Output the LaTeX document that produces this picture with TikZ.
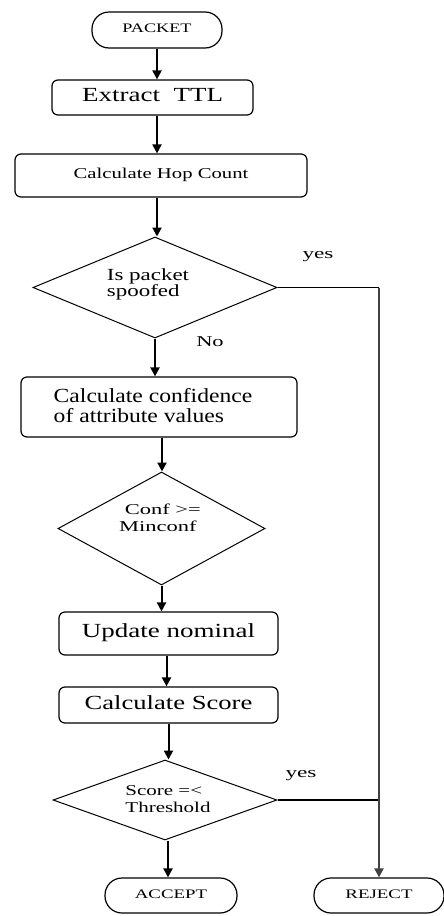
\documentclass[tikz,border=0pt]{standalone}
\usepackage{fontspec}
\setmainfont{Liberation Serif}
\usetikzlibrary{shapes.geometric,arrows.meta}
\newcommand{\stxt}[3]{\scalebox{#2}[1]{\fontsize{#1}{#1}\selectfont\begin{tabular}{@{}c@{}}#3\end{tabular}}}
\begin{document}
\begin{tikzpicture}[x=1pt,y=1pt,
  procbox/.style={draw, line width=1.2pt, rounded corners=6pt, inner sep=0pt},
  termbox/.style={draw, line width=1.2pt, rounded corners=17pt, inner sep=0pt},
  decbox/.style={draw, line width=1pt, diamond, inner sep=0pt},
  flow/.style={line width=2pt, -{Triangle[length=9pt,width=9pt]}},
  lbl/.style={inner sep=0pt}]
\useasboundingbox (0,0) rectangle (444,-916);
\node[termbox, minimum width=130pt, minimum height=36pt] (packet) at (157,-30) {\stxt{13}{1.4}{PACKET}};
\node[procbox, minimum width=201pt, minimum height=35pt] (extract) at (152.5,-97.5) {\stxt{20}{1.35}{Extract\ \ TTL}};
\node[procbox, minimum width=292pt, minimum height=43pt] (hop) at (161,-175.5) {\stxt{15}{1.38}{Calculate Hop Count}};
\node[decbox, minimum width=244pt, minimum height=101pt] (spoof) at (155,-287.5) {};
\node[lbl] (spooft) at (148,-285) {\fontsize{17}{17}\selectfont\scalebox{1.35}[1]{\begin{tabular}{@{}l@{}}Is packet\\[-1pt]spoofed\end{tabular}}};
\node[procbox, minimum width=276pt, minimum height=60pt] (confbox) at (159,-407) {};
\node[lbl] (conft) at (153,-408) {\scalebox{1.18}[1]{\fontsize{20}{19}\selectfont\begin{tabular}{@{}l@{}}Calculate confidence\\of attribute values\end{tabular}}};
\node[decbox, minimum width=207pt, minimum height=113pt] (minconf) at (161.5,-528.5) {};
\node[lbl] (minconft) at (160,-520) {\fontsize{15}{17}\selectfont\scalebox{1.5}[1]{\begin{tabular}{@{}l@{}}\ Conf >=\\Minconf\end{tabular}}};
\node[procbox, minimum width=219pt, minimum height=43pt] (update) at (168.5,-633.5) {\stxt{20}{1.35}{Update nominal}};
\node[procbox, minimum width=219pt, minimum height=36pt] (score) at (168.5,-705) {\stxt{20}{1.33}{Calculate Score}};
\node[decbox, minimum width=224pt, minimum height=80pt] (thr) at (165,-800) {};
\node[lbl] (thrt) at (168,-801) {\fontsize{15}{17}\selectfont\scalebox{1.4}[1]{\begin{tabular}{@{}l@{}}Score =<\\Threshold\end{tabular}}};
\node[termbox, minimum width=132pt, minimum height=35pt] (accept) at (171,-895.5) {\stxt{13}{1.45}{ACCEPT}};
\node[termbox, minimum width=130pt, minimum height=35pt] (reject) at (379,-895.5) {\stxt{13}{1.45}{REJECT}};
\node[lbl] (yes1) at (318,-255) {\stxt{15}{1.55}{yes}};
\node[lbl] (no1) at (210,-343) {\stxt{15}{1.5}{No}};
\node[lbl] (yes2) at (301,-774) {\stxt{15}{1.55}{yes}};
\coordinate (j1) at (reject.north |- spoof.east);
\coordinate (j2) at (reject.north |- thr.east);
\draw[flow] (packet.south) -- (packet.south |- extract.north);
\draw[flow] ([xshift=4.5pt]extract.south) -- ([xshift=4.5pt]extract.south |- hop.north);
\draw[flow] ([xshift=-4pt]hop.south) -- ([xshift=-4pt]hop.south |- spoof.north);
\draw[flow] (spoof.south) -- (spoof.south |- confbox.north);
\draw[flow] ([xshift=3pt]confbox.south) -- ([xshift=3pt]confbox.south |- minconf.north);
\draw[flow] (minconf.south) -- (minconf.south |- update.north);
\draw[flow] ([xshift=-2pt]update.south) -- ([xshift=-2pt]update.south |- score.north);
\draw[flow] (score.south) -- (score.south |- thr.north);
\draw[flow] ([xshift=3pt]thr.south) -- ([xshift=3pt]thr.south |- accept.north);
\draw[line width=1.1pt] (spoof.east) -- (j1);
\draw[line width=1.1pt] (thr.east) -- (j2);
\draw[flow, draw=black!75, fill=black!75] (j1) -- (reject.north);
\end{tikzpicture}
\end{document}
